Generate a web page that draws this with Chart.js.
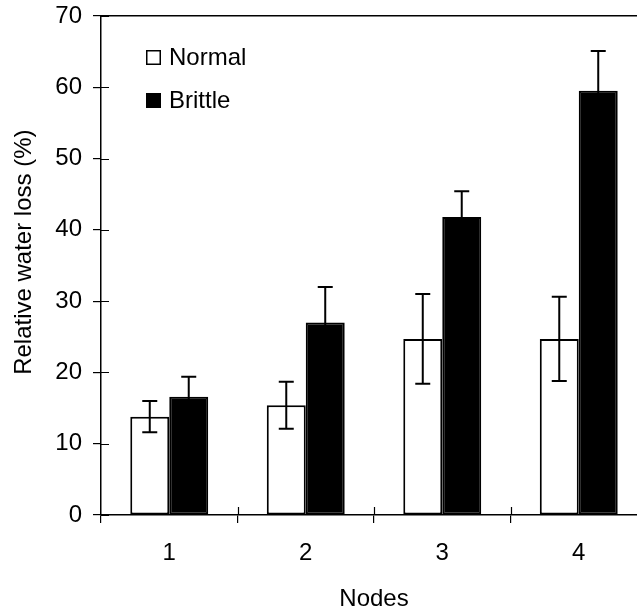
<!DOCTYPE html>
<html>
<head>
<meta charset="utf-8">
<script src="https://cdn.jsdelivr.net/npm/chart.js@4"></script>
<style>
  html, body { margin: 0; padding: 0; background: #fff; overflow: hidden; }
  #wrap { position: relative; width: 647px; height: 614px; }
</style>
</head>
<body>
<div id="wrap"><canvas id="c"></canvas></div>
<script>
const categories = ['1', '2', '3', '4'];
const normalMean = [13.8, 15.4, 24.7, 24.7];
const normalErr = [2.2, 3.3, 6.3, 5.9];
const brittleMean = [16.6, 27.0, 41.8, 59.5];
const brittleErr = [2.8, 5.0, 3.6, 5.6];
const seriesNames = ['Normal', 'Brittle'];
const yTicks = [0, 10, 20, 30, 40, 50, 60, 70];

const FONT = "'Liberation Sans', Arial, sans-serif";
const errs = [normalErr, brittleErr];

const errorBars = {
  id: 'errorBars',
  afterDatasetsDraw(chart) {
    const ctx = chart.ctx;
    const y = chart.scales.y;
    ctx.save();
    ctx.strokeStyle = '#000';
    ctx.lineWidth = 2;
    chart.data.datasets.forEach((ds, i) => {
      const meta = chart.getDatasetMeta(i);
      meta.data.forEach((bar, j) => {
        const m = ds.data[j], e = errs[i][j];
        const yt = y.getPixelForValue(m + e), yb = y.getPixelForValue(m - e);
        const x = bar.x;
        ctx.beginPath();
        ctx.moveTo(x, yt); ctx.lineTo(x, yb);
        ctx.moveTo(x - 7.5, yt); ctx.lineTo(x + 7.5, yt);
        ctx.moveTo(x - 7.5, yb); ctx.lineTo(x + 7.5, yb);
        ctx.stroke();
      });
    });
    ctx.restore();
  }
};

const innerTicks = {
  id: 'innerTicks',
  afterDraw(chart) {
    const ctx = chart.ctx;
    const {left, bottom} = chart.chartArea;
    const ys = chart.scales.y, xs = chart.scales.x;
    ctx.save();
    ctx.strokeStyle = '#000';
    ctx.lineWidth = 1.2;
    ctx.beginPath();
    ys.ticks.forEach(t => {
      const py = Math.round(ys.getPixelForValue(t.value)) + 0.5;
      ctx.moveTo(left, py); ctx.lineTo(left + 8, py);
    });
    const n = chart.data.labels.length;
    for (let j = 0; j < n; j++) {
      const a = xs.getPixelForValue(j);
      const b = j + 1 < n ? xs.getPixelForValue(j + 1) : a + (a - xs.getPixelForValue(j - 1));
      const px = Math.round((a + b) / 2) + 0.5;
      ctx.moveTo(px, bottom); ctx.lineTo(px, bottom - 8);
    }
    ctx.stroke();
    ctx.restore();
  }
};

const boxLegend = {
  id: 'boxLegend',
  afterDraw(chart) {
    const ctx = chart.ctx;
    const {left, top} = chart.chartArea;
    ctx.save();
    ctx.font = '24px ' + FONT;
    ctx.textBaseline = 'middle';
    ctx.fillStyle = '#000';
    chart.data.datasets.forEach((ds, i) => {
      const bx = left + 45, by = top + 34 + i * 43;
      ctx.fillStyle = ds.backgroundColor;
      ctx.fillRect(bx, by, 15, 15);
      ctx.strokeStyle = '#000';
      ctx.lineWidth = 1.5;
      ctx.strokeRect(bx + 0.75, by + 0.75, 13.5, 13.5);
      ctx.fillStyle = '#000';
      ctx.fillText(ds.label, bx + 23, by + 8);
    });
    ctx.restore();
  }
};

new Chart(document.getElementById('c'), {
  type: 'bar',
  data: {
    labels: categories,
    datasets: [
      { label: seriesNames[0], data: normalMean, backgroundColor: '#ffffff', borderColor: '#000', borderWidth: 2, borderSkipped: false },
      { label: seriesNames[1], data: brittleMean, backgroundColor: '#000000', borderColor: '#000', borderWidth: 2, borderSkipped: false }
    ]
  },
  options: {
    responsive: true,
    maintainAspectRatio: false,
    animation: false,
    devicePixelRatio: 1,
    layout: { padding: 0 },
    categoryPercentage: 0.571,
    barPercentage: 1.0,
    plugins: { legend: { display: false }, tooltip: { enabled: false } },
    scales: {
      x: {
        position: 'bottom',
        afterFit(s) { s.height = 99; s.paddingLeft = 0; s.paddingRight = 0; },
        grid: { display: true, drawOnChartArea: false, drawTicks: true, tickLength: 8, color: '#000', lineWidth: 1.2 },
        border: { display: true, color: '#000', width: 1.5 },
        ticks: { color: '#000', font: { family: FONT, size: 24 }, padding: 16 },
        title: { display: true, text: 'Nodes', color: '#000', font: { family: FONT, size: 24 }, padding: 0 }
      },
      xTop: {
        type: 'category',
        position: 'top',
        afterFit(s) { s.height = 16; },
        grid: { display: false },
        border: { display: true, color: '#000', width: 1.5 },
        ticks: { display: false }
      },
      y: {
        min: 0, max: 70,
        afterFit(s) { s.width = 101; s.paddingTop = 0; s.paddingBottom = 0; },
        afterBuildTicks(s) { s.ticks = yTicks.map(v => ({ value: v })); },
        grid: { display: true, drawOnChartArea: false, drawTicks: true, tickLength: 8, color: '#000', lineWidth: 1.2 },
        border: { display: true, color: '#000', width: 1.5 },
        ticks: { color: '#000', font: { family: FONT, size: 24 }, padding: 11 },
        title: { display: true, text: '\u00A0\u00A0\u00A0\u00A0Relative water loss (%)', color: '#000', font: { family: FONT, size: 24 }, padding: 10 }
      }
    }
  },
  plugins: [errorBars, innerTicks, boxLegend]
});
</script>
</body>
</html>
